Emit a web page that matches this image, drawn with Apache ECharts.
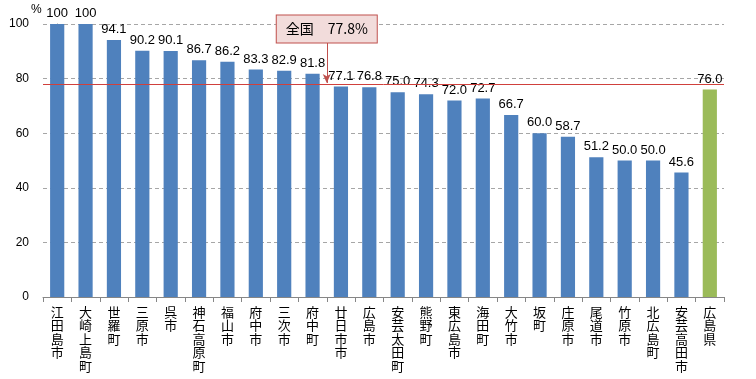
<!DOCTYPE html>
<html><head><meta charset="utf-8">
<script src="https://cdn.jsdelivr.net/npm/echarts@6/dist/echarts.min.js"></script>
<style>html,body{margin:0;padding:0;background:#fff}#c{width:756px;height:379px}</style>
</head><body><div id="c"></div>
<script>
const categories = ['江田島市','大崎上島町','世羅町','三原市','呉市','神石高原町','福山市','府中市','三次市','府中町','廿日市市','広島市','安芸太田町','熊野町','東広島市','海田町','大竹市','坂町','庄原市','尾道市','竹原市','北広島町','安芸高田市','広島県'];
const values = [100,100,94.1,90.2,90.1,86.7,86.2,83.3,82.9,81.8,77.1,76.8,75.0,74.3,72.0,72.7,66.7,60.0,58.7,51.2,50.0,50.0,45.6,76.0];
const nationalValue = 77.8;
const nationalLabel = '全国　77.8%';
const yTicks = [0,20,40,60,80,100];

const font = '"Liberation Sans","DejaVu Sans",sans-serif';
const n = categories.length;
const chart = echarts.init(document.getElementById('c'));
chart.setOption({
  animation:false,
  title:{text:'%',left:31,top:4,padding:0,textStyle:{color:'#000',fontFamily:font,fontSize:12,fontWeight:'normal'}},
  grid:{left:43,right:32,top:24,bottom:82},
  xAxis:[{type:'category',data:categories,
    axisLine:{lineStyle:{color:'#868686'}},
    axisTick:{show:true,alignWithLabel:false,length:5,lineStyle:{color:'#868686'}},
    axisLabel:{interval:0,color:'#000',fontFamily:'"Noto Sans CJK JP"',fontSize:13,lineHeight:13.5,
      formatter:v=>v.split('').join('\n'),margin:8}},
    {type:'value',min:-0.5,max:n-0.5,show:false}],
  yAxis:{type:'value',min:yTicks[0],max:yTicks[yTicks.length-1],interval:20,
    axisLine:{show:true,lineStyle:{color:'#868686'}},
    axisTick:{show:false},
    axisLabel:{color:'#000',fontFamily:font,fontSize:12,margin:14},
    splitLine:{lineStyle:{color:'#A6A6A6',type:[4,3]}}},
  series:[{
    type:'bar',barWidth:'50%',
    data:values.map((v,i)=>({value:v,itemStyle:{color:i===values.length-1?'#9BBB59':'#4F81BD'}})),
    label:{show:true,position:'top',distance:4,color:'#000',fontFamily:font,fontSize:13,
      formatter:p=>(p.value===100?'100':p.value.toFixed(1))},
    markLine:{silent:true,symbol:['none','none'],label:{show:false},
      lineStyle:{color:'#D0403C',width:1,type:'solid'},
      data:[{yAxis:nationalValue}]}
  },{
    type:'line',xAxisIndex:1,data:[],silent:true,
    markLine:{silent:true,symbol:['none','arrow'],symbolSize:[6,9],label:{show:false},
      lineStyle:{color:'#C0504D',width:1,type:'solid'},
      data:[[{coord:[9.5,93.4]},{coord:[9.5,nationalValue+0.6]}]]},
    markPoint:{silent:true,symbol:'rect',symbolSize:1,itemStyle:{color:'transparent'},
      data:[{coord:[9.5,98.2],label:{show:true,formatter:nationalLabel,position:'inside',
        align:'center',verticalAlign:'middle',width:78,height:15,
        color:'#000',fontFamily:'"Noto Sans CJK JP"',fontSize:14,
        backgroundColor:'#F2DCDB',borderColor:'#C0504D',borderWidth:1,padding:[6,11,6,11]}}]}
  }]
});
</script></body></html>
